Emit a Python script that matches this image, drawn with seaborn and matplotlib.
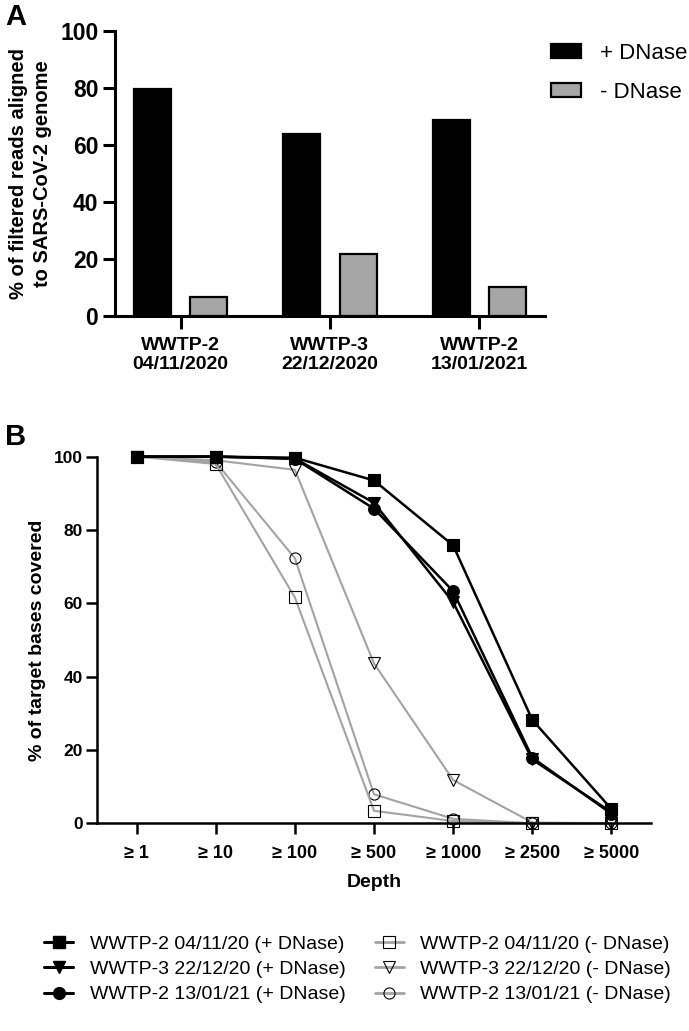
import numpy as np
import pandas as pd
import seaborn as sns
import matplotlib.pyplot as plt
from matplotlib.lines import Line2D
from matplotlib.patches import Patch

# panel A data
samples = ["WWTP-2\n04/11/2020", "WWTP-3\n22/12/2020", "WWTP-2\n13/01/2021"]
treatments = ["+ DNase", "- DNase"]
pct_plus = [79.4, 63.9, 68.6]
pct_minus = [6.8, 21.7, 10.2]

# panel B data
depth_labels = ["≥ 1", "≥ 10", "≥ 100", "≥ 500", "≥ 1000", "≥ 2500", "≥ 5000"]
names = ["WWTP-2 04/11/20 (+ DNase)", "WWTP-3 22/12/20 (+ DNase)", "WWTP-2 13/01/21 (+ DNase)",
         "WWTP-2 04/11/20 (- DNase)", "WWTP-3 22/12/20 (- DNase)", "WWTP-2 13/01/21 (- DNase)"]
cov_w2_nov_plus = [100, 100, 99.7, 93.5, 75.8, 28.2, 3.9]
cov_w3_dec_plus = [100, 100, 99.5, 87.4, 60.3, 17.4, 3.0]
cov_w2_jan_plus = [100, 100, 99.4, 85.8, 63.3, 17.9, 2.6]
cov_w2_nov_minus = [100, 98.0, 61.6, 3.4, 0.6, 0.0, 0.0]
cov_w3_dec_minus = [100, 99.0, 96.4, 43.6, 11.8, 0.2, 0.0]
cov_w2_jan_minus = [100, 98.5, 72.3, 7.9, 1.2, 0.0, 0.0]

sns.set_theme(style="ticks")
plt.rcParams['font.family'] = ['Liberation Sans', 'DejaVu Sans']
plt.rcParams['text.color'] = 'black'
plt.rcParams['axes.labelcolor'] = 'black'
plt.rcParams['xtick.color'] = 'black'
plt.rcParams['ytick.color'] = 'black'
plt.rcParams['axes.edgecolor'] = 'black'

BLACK = "#000000"
GREY = "#a6a6a6"
LGREY = "#a3a3a3"

fig = plt.figure(figsize=(6.89, 10.31), dpi=100)

# ---- A) barras
axA = fig.add_axes([0.1669, 0.6935, 0.624, 0.2767])
dfA = pd.DataFrame({
    "sample": samples * 2,
    "pct": pct_plus + pct_minus,
    "treatment": [treatments[0]] * 3 + [treatments[1]] * 3,
})
sns.barplot(data=dfA, x="sample", y="pct", hue="treatment",
            palette={treatments[0]: BLACK, treatments[1]: GREY},
            width=0.752, gap=0.34, saturation=1, edgecolor="black",
            linewidth=1.6, legend=False, ax=axA)
axA.set_xlim(-0.44, 2.44)
axA.set_ylim(0, 100)
axA.set_yticks([0, 20, 40, 60, 80, 100])
axA.set_xlabel("")
axA.set_ylabel("% of filtered reads aligned\nto SARS-CoV-2 genome", fontsize=14.5,
               fontweight="bold", linespacing=1.3, labelpad=6)
sns.despine(ax=axA)
for s in ["left", "bottom"]:
    axA.spines[s].set_linewidth(2.2)
axA.tick_params(axis="both", width=2.2, length=9, direction="out")
axA.tick_params(axis="y", labelsize=16.5, pad=3)
axA.tick_params(axis="x", labelsize=14, pad=6)
for t in axA.get_xticklabels() + axA.get_yticklabels():
    t.set_fontweight("bold")

legA = [Patch(facecolor=BLACK, edgecolor="black", linewidth=1.6),
        Patch(facecolor=GREY, edgecolor="black", linewidth=1.6)]
fig.legend(legA, treatments, loc="upper left", bbox_to_anchor=(551 / 689, 1 - 43 / 1031),
           frameon=False, fontsize=16, handlelength=1.35, handleheight=0.62,
           handletextpad=0.85, labelspacing=0.8, borderpad=0, borderaxespad=0)

# ---- B) lineas
axB = fig.add_axes([0.1408, 0.2015, 0.804, 0.3556])
xpos = np.arange(len(depth_labels))
grey_series = [(cov_w2_jan_minus, "o", names[5]), (cov_w3_dec_minus, "v", names[4]),
               (cov_w2_nov_minus, "s", names[3])]
black_series = [(cov_w2_jan_plus, "o", names[2]), (cov_w3_dec_plus, "v", names[1]),
                (cov_w2_nov_plus, "s", names[0])]
handles = {}
for vals, m, lab in grey_series:
    sns.lineplot(x=xpos, y=vals, ax=axB, color=LGREY, linewidth=1.5, marker=m,
                 markersize=8 if m != "v" else 9, markerfacecolor="none",
                 markeredgecolor="black", markeredgewidth=0.8, clip_on=False)
    handles[lab] = Line2D([], [], color=LGREY, linewidth=2, marker=m, markersize=8,
                          markerfacecolor="none", markeredgecolor="black",
                          markeredgewidth=0.8)
for vals, m, lab in black_series:
    sns.lineplot(x=xpos, y=vals, ax=axB, color=BLACK, linewidth=1.8, marker=m,
                 markersize=8.5 if m != "v" else 9, markerfacecolor="black",
                 markeredgecolor="black", markeredgewidth=0.8, clip_on=False)
    handles[lab] = Line2D([], [], color=BLACK, linewidth=2.2, marker=m, markersize=8.5,
                          markerfacecolor="black", markeredgecolor="black")

axB.set_xlim(-0.5, 6.5)
axB.set_ylim(0, 100)
axB.set_xticks(xpos)
axB.set_xticklabels(depth_labels)
axB.set_yticks([0, 20, 40, 60, 80, 100])
axB.set_xlabel("Depth", fontsize=14, fontweight="bold", labelpad=8)
axB.set_ylabel("% of target bases covered", fontsize=14, fontweight="bold", labelpad=6)
sns.despine(ax=axB)
for s in ["left", "bottom"]:
    axB.spines[s].set_linewidth(1.8)
axB.tick_params(axis="both", width=1.8, length=8, direction="out")
axB.tick_params(axis="y", labelsize=12.5, pad=2)
axB.tick_params(axis="x", labelsize=13, pad=8)
for t in axB.get_xticklabels() + axB.get_yticklabels():
    t.set_fontweight("bold")

fig.legend([handles[n] for n in names], names, loc="upper left", ncol=2,
           bbox_to_anchor=(44 / 689, 1 - 935 / 1031), frameon=False, fontsize=14,
           handlelength=1.5, handletextpad=0.85, columnspacing=1.5, labelspacing=0.4,
           borderpad=0, borderaxespad=0)

fig.text(5 / 689, 1 - 3 / 1031, "A", fontsize=21, fontweight="bold", va="top", ha="left")
fig.text(5 / 689, 1 - 423 / 1031, "B", fontsize=21, fontweight="bold", va="top", ha="left")

fig.savefig("out.png", dpi=100)
